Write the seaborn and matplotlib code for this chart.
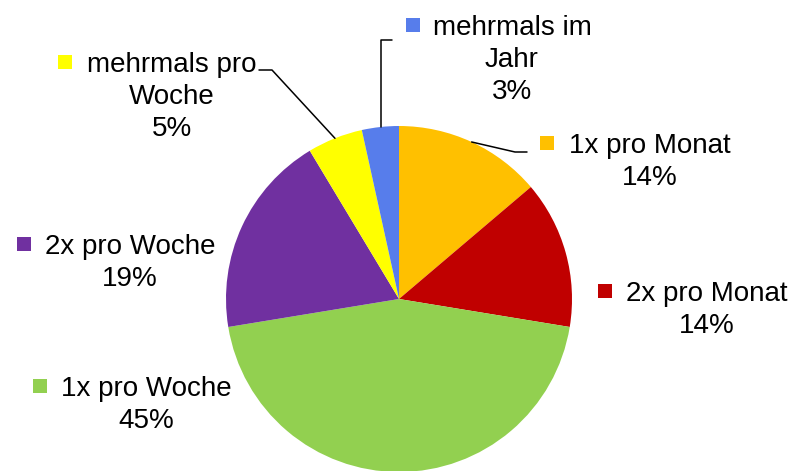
import numpy as np
import matplotlib
matplotlib.use("Agg")
import matplotlib.pyplot as plt
import seaborn as sns

# Data (survey counts, n = 58)
categories = ["1x pro Monat", "2x pro Monat", "1x pro Woche",
              "2x pro Woche", "mehrmals pro Woche", "mehrmals im Jahr"]
counts = [8, 8, 26, 11, 3, 2]
label_lines = [["1x pro Monat"], ["2x pro Monat"], ["1x pro Woche"],
               ["2x pro Woche"], ["mehrmals pro", "Woche"], ["mehrmals im", "Jahr"]]
colors = ["#FFC000", "#C00000", "#92D050", "#7030A0", "#FFFF00", "#577DEB"]

sns.set_theme(style="white")
plt.rcParams['font.family'] = ['Liberation Sans', 'DejaVu Sans']

W, H = 796, 471
fig = plt.figure(figsize=(W / 100, H / 100), dpi=100)
ax = fig.add_axes([0, 0, 1, 1])

cx, cy, r = 399, H - 299, 173
wedges, _ = ax.pie(counts, colors=sns.color_palette(colors), startangle=90,
                   counterclock=False, center=(cx, cy), radius=r, frame=False,
                   wedgeprops=dict(linewidth=0))
ax.set_xlim(0, W)
ax.set_ylim(0, H)
ax.set_aspect('auto')
ax.axis('off')

# label layout in pixel coords (top-left origin): text center x, first line y, key x
layout = [(650, 143, 547), (707, 291, 605), (146, 386, 40),
          (130, 244, 24), (172, 62, 65), (512, 25, 413)]
line_step = 32
total = sum(counts)
for i, (tx, ty, kx) in enumerate(layout):
    lines = label_lines[i] + [f"{round(100 * counts[i] / total):.0f}%"]
    for j, line in enumerate(lines):
        ax.text(tx, H - (ty + j * line_step), line, ha='center', va='center_baseline',
                fontsize=20, color='black')
    ax.scatter([kx], [H - ty], marker='s', s=105, color=colors[i], linewidths=0)

# leader lines: elbow points are layout, end point is the wedge's outer mid-point
def wedge_mid(w):
    a = np.deg2rad((w.theta1 + w.theta2) / 2)
    return cx + r * np.cos(a), cy + r * np.sin(a)

elbows = {0: [(527, 152), (515, 152)],
          4: [(259, 70), (272, 70)],
          5: [(392, 40), (381, 40)]}
for i, pts in elbows.items():
    mx, my = wedge_mid(wedges[i])
    xs = [p[0] for p in pts] + [mx]
    ys = [H - p[1] for p in pts] + [my]
    if i == 5:
        xs[-1] = xs[-2]
    ax.plot(xs, ys, color='black', linewidth=1.1)

fig.savefig("out.png", dpi=100)
